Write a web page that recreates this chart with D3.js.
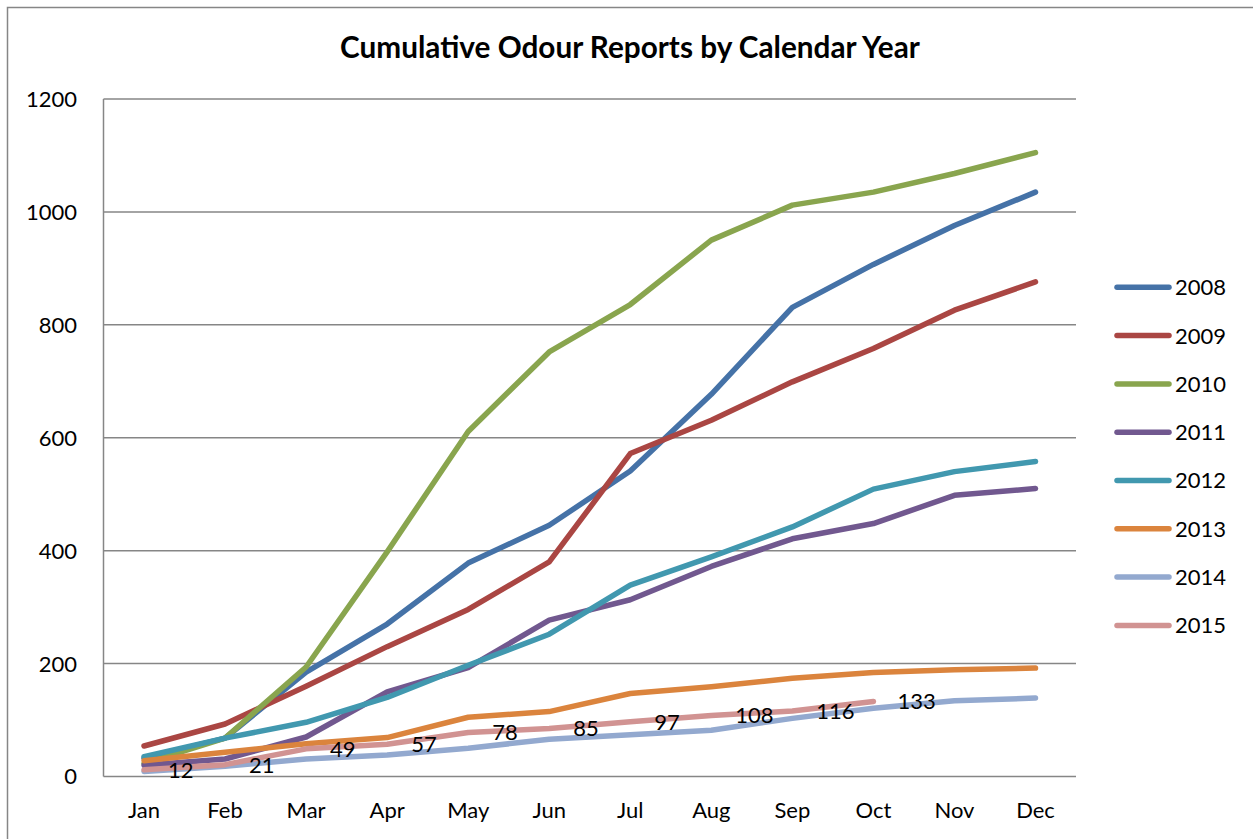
<!DOCTYPE html>
<html><head><meta charset="utf-8">
<script src="https://cdn.jsdelivr.net/npm/d3@7"></script>
<style>body{margin:0;background:#fff}svg{display:block}text{font-family:Lato,"Open Sans",sans-serif}</style>
</head><body>
<script>
const months = ["Jan","Feb","Mar","Apr","May","Jun","Jul","Aug","Sep","Oct","Nov","Dec"];
const years = ["2008","2009","2010","2011","2012","2013","2014","2015"];
const colors = ["#4572A7","#AA4643","#89A54E","#71588F","#4198AF","#DB843D","#93A9CF","#D19392"];
const s2008 = [32, 68, 185, 270, 378, 445, 541, 677, 831, 907, 976, 1035];
const s2009 = [54, 93, 160, 230, 296, 380, 572, 631, 699, 758, 826, 876];
const s2010 = [23, 68, 194, 398, 611, 752, 836, 950, 1012, 1035, 1068, 1105];
const s2011 = [20, 31, 70, 150, 193, 277, 313, 372, 421, 448, 498, 510];
const s2012 = [35, 68, 96, 140, 197, 252, 339, 389, 442, 509, 540, 558];
const s2013 = [28, 43, 58, 69, 105, 115, 147, 159, 174, 184, 189, 192];
const s2014 = [9, 18, 31, 38, 50, 66, 74, 82, 103, 121, 134, 139];
const s2015 = [12, 21, 49, 57, 78, 85, 97, 108, 116, 133];
const yTicks = [0, 200, 400, 600, 800, 1000, 1200];
const titleText = "Cumulative Odour Reports by Calendar Year";

(function () {
const series = [s2008, s2009, s2010, s2011, s2012, s2013, s2014, s2015];
const W = 1253, H = 839;
const svg = d3.select("body").append("svg").attr("width", W).attr("height", H);

svg.append("rect").attr("x", 7.5).attr("y", 7.5).attr("width", 1300).attr("height", 900)
  .attr("fill", "none").attr("stroke", "#868686").attr("stroke-width", 1.5);

const pL = 103.5, pR = 1076, pT = 99, pB = 776.5;
const x = d3.scaleBand().domain(months).range([pL, pR]);
const y = d3.scaleLinear().domain([0, 1200]).range([pB, pT]);

svg.append("g").selectAll("line").data(yTicks).join("line")
  .attr("x1", pL).attr("x2", pR).attr("y1", d => y(d)).attr("y2", d => y(d))
  .attr("stroke", "#868686").attr("stroke-width", 1.5);
svg.append("line").attr("x1", pL).attr("x2", pL).attr("y1", pT).attr("y2", pB)
  .attr("stroke", "#868686").attr("stroke-width", 1.5);

svg.append("g").selectAll("text").data(yTicks).join("text")
  .attr("x", 77).attr("y", d => y(d)).attr("dy", "0.36em").attr("text-anchor", "end")
  .attr("font-size", 22).attr("fill", "#000").text(d => d);

svg.append("g").selectAll("text").data(months).join("text")
  .attr("x", d => x(d) + x.bandwidth() / 2).attr("y", 810).attr("dy", "0.36em")
  .attr("text-anchor", "middle").attr("font-size", 22).attr("fill", "#000").text(d => d);

const line = d3.line().x((d, i) => x(months[i]) + x.bandwidth() / 2).y(d => y(d));
svg.append("g").selectAll("path").data(series).join("path")
  .attr("d", d => line(d)).attr("fill", "none")
  .attr("stroke", (d, i) => colors[i]).attr("stroke-width", 5.5)
  .attr("stroke-linejoin", "round").attr("stroke-linecap", "round");

svg.append("g").selectAll("text").data(s2015).join("text")
  .attr("x", (d, i) => x(months[i]) + x.bandwidth() / 2 + 24).attr("y", d => y(d)).attr("dy", "0.36em")
  .attr("font-size", 22).attr("fill", "#000").text(d => d);

const t = svg.append("text").attr("x", 630).attr("y", 47).attr("dy", "0.36em").attr("text-anchor", "middle")
  .attr("font-size", 24).attr("font-weight", "bold").attr("fill", "#000").text(titleText);
const tw = t.node().getComputedTextLength();
t.attr("font-size", 24 * 580 / tw);

const lg = svg.append("g").selectAll("g").data(years).join("g")
  .attr("transform", (d, i) => `translate(0,${287.3 + i * 48.3})`);
lg.append("line").attr("x1", 1117).attr("x2", 1169).attr("y1", 0).attr("y2", 0)
  .attr("stroke", (d, i) => colors[i]).attr("stroke-width", 5.5).attr("stroke-linecap", "round");
lg.append("text").attr("x", 1175).attr("y", 0).attr("dy", "0.36em").attr("font-size", 22)
  .attr("fill", "#000").text(d => d);
})();
</script>
</body></html>
